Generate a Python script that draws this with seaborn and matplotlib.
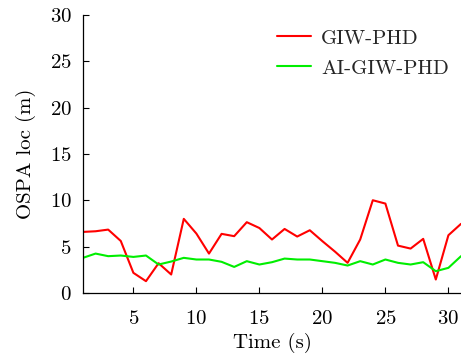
import numpy as np
import pandas as pd
import seaborn as sns
import matplotlib
matplotlib.use("Agg")
import matplotlib.pyplot as plt

time = list(range(1, 32))
giw_phd = [6.58, 6.65, 6.83, 5.6, 2.16, 1.26, 3.2, 1.98, 7.99, 6.4, 4.24, 6.37, 6.12,
           7.63, 7.0, 5.76, 6.9, 6.08, 6.76, 5.58, 4.45, 3.24, 5.76, 10.0, 9.64, 5.1,
           4.78, 5.83, 1.44, 6.22, 7.45]
ai_giw_phd = [3.78, 4.24, 3.96, 4.03, 3.88, 4.03, 3.06, 3.38, 3.78, 3.6, 3.6, 3.35, 2.8,
              3.42, 3.06, 3.31, 3.7, 3.6, 3.6, 3.42, 3.24, 2.95, 3.42, 3.06, 3.6, 3.24,
              3.06, 3.31, 2.34, 2.7, 3.96]
series_names = ["GIW-PHD", "AI-GIW-PHD"]
colors = ["#ff0000", "#00ee00"]

df = pd.DataFrame({
    "Time": time * 2,
    "OSPA": giw_phd + ai_giw_phd,
    "Method": [series_names[0]] * len(time) + [series_names[1]] * len(time),
})

sns.set_theme(style="ticks")
plt.rcParams["font.family"] = ["serif"]
plt.rcParams["font.serif"] = ["cmr10", "DejaVu Serif"]
plt.rcParams["mathtext.fontset"] = "cm"
plt.rcParams["axes.formatter.use_mathtext"] = True
plt.rcParams["axes.unicode_minus"] = False

fs = 15
fig = plt.figure(figsize=(4.61, 3.58), dpi=100)
ax = fig.add_axes([0.18, 0.182, 0.82, 0.776])
sns.lineplot(data=df, x="Time", y="OSPA", hue="Method", palette=colors,
             linewidth=1.5, ax=ax)

ax.set_xlim(1, 31)
ax.set_ylim(0, 30)
ax.set_xticks([5, 10, 15, 20, 25, 30])
ax.set_yticks([0, 5, 10, 15, 20, 25, 30])
ax.tick_params(direction="in", length=4, width=0.8, labelsize=fs, colors="black")
ax.tick_params(axis="x", pad=12)
ax.tick_params(axis="y", pad=8)
for s in ["left", "bottom"]:
    ax.spines[s].set_color("black")
    ax.spines[s].set_linewidth(0.9)
sns.despine(ax=ax)
ax.set_xlabel("Time (s)", fontsize=fs, color="black", labelpad=4)
ax.set_ylabel("OSPA loc (m)", fontsize=fs, color="black", labelpad=10)
leg = ax.legend(loc="upper right", frameon=False, fontsize=fs, handlelength=1.6,
                handletextpad=0.5, labelspacing=0.55,
                borderaxespad=0.0, bbox_to_anchor=(0.99, 0.98))
fig.savefig("out.png", dpi=100)
